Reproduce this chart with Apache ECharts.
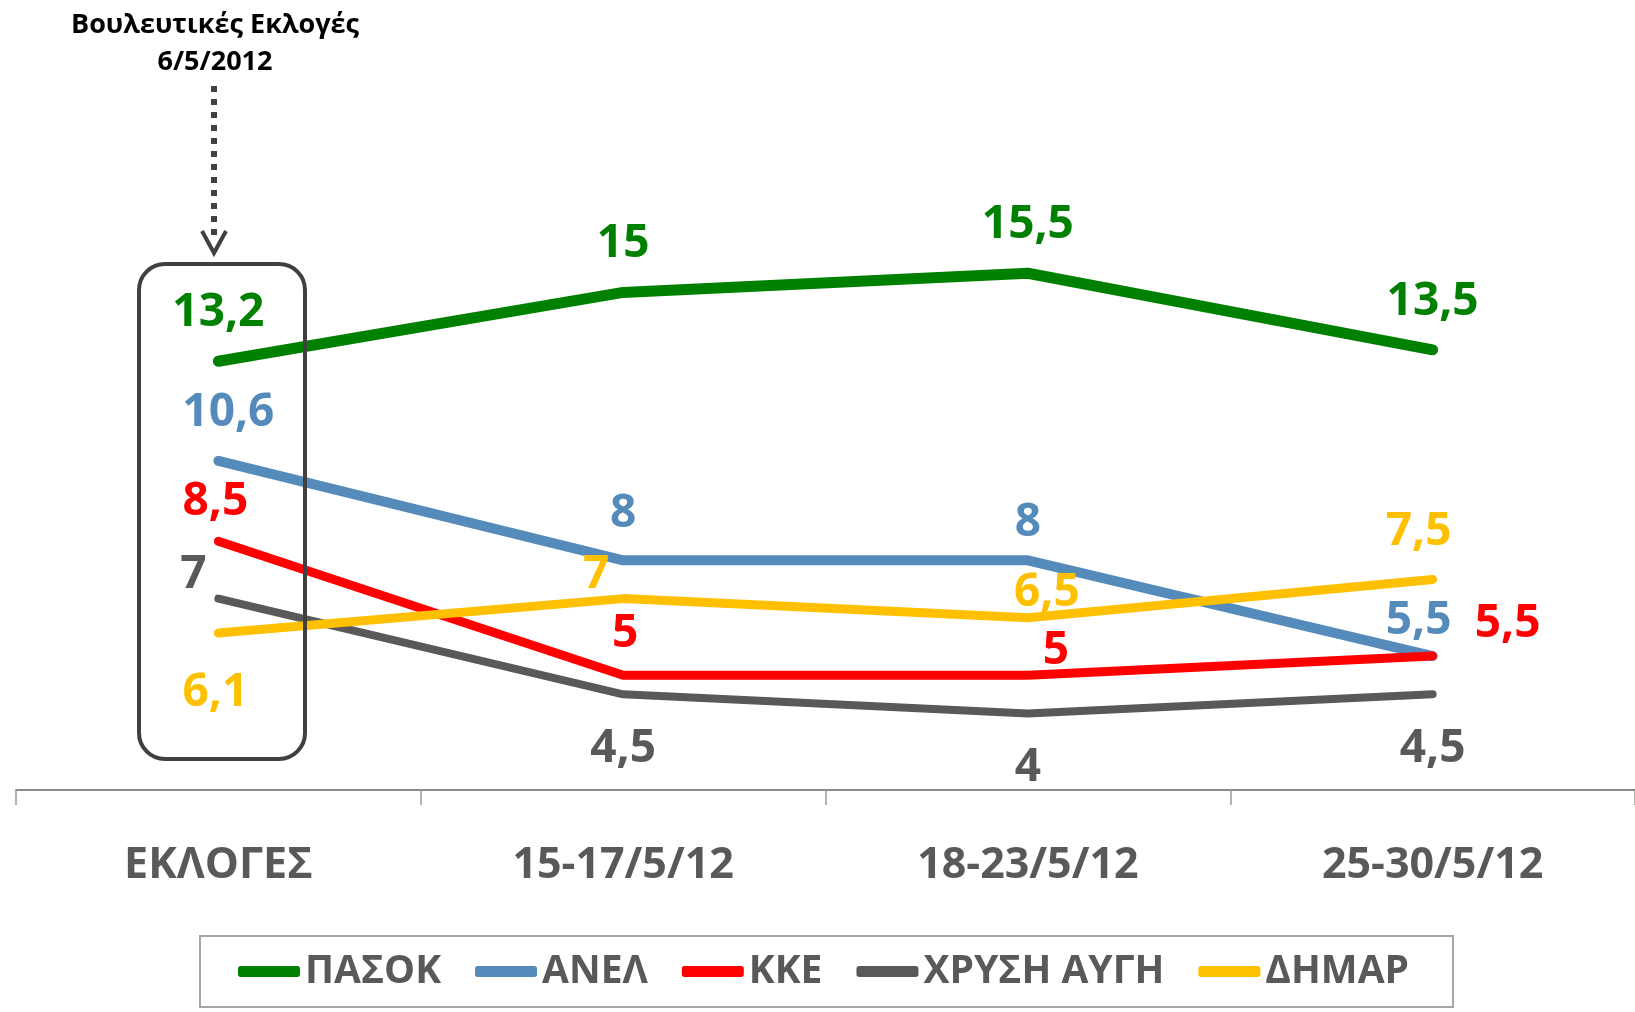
<!DOCTYPE html>
<html>
<head>
<meta charset="utf-8">
<script src="https://cdn.jsdelivr.net/npm/echarts@6/dist/echarts.min.js"></script>
<style>
  html, body { margin: 0; padding: 0; background: #fff; }
  #main { width: 1635px; height: 1012px; }
</style>
</head>
<body>
<div id="main"></div>
<script>
// poll dates
const categories = ['ΕΚΛΟΓΕΣ', '15-17/5/12', '18-23/5/12', '25-30/5/12'];

// percentages per party
const pasok = [13.2, 15, 15.5, 13.5];
const anel = [10.6, 8, 8, 5.5];
const kke = [8.5, 5, 5, 5.5];
const xa = [7, 4.5, 4, 4.5];
const dimar = [6.1, 7, 6.5, 7.5];

const names = ['ΠΑΣΟΚ', 'ΑΝΕΛ', 'ΚΚΕ', 'ΧΡΥΣΗ ΑΥΓΗ', 'ΔΗΜΑΡ'];
const colors = ['#008000', '#558BBA', '#FF0000', '#595959', '#FFC000'];
const widths = [11, 10, 9, 8, 9];

// where each value label sits relative to its point (px)
const labelOffsets = [
    [[0, -48], [0, -48], [0, -48], [0, -48]],
    [[10, -48], [0, -46], [0, -37], [-14, -35]],
    [[-3, -39], [2, -41], [28, -24], [75, -32]],
    [[-25, -24], [0, 55], [0, 54], [0, 55]],
    [[-3, 60], [-27, -24], [19, -25], [-14, -48]]
];

const FONT = '"Open Sans", "Noto Sans", sans-serif';

function fmt(v) {
    return String(v).replace('.', ',');
}

const allData = [pasok, anel, kke, xa, dimar];

const series = allData.map((values, i) => ({
    name: names[i],
    type: 'line',
    color: colors[i],
    symbol: 'circle',
    symbolSize: 1,
    lineStyle: { width: widths[i], color: colors[i], cap: 'round', join: 'round' },
    itemStyle: { color: colors[i] },
    emphasis: { disabled: true },
    animation: false,
    data: values.map((v, j) => ({
        value: v,
        label: {
            show: true,
            position: 'inside',
            offset: labelOffsets[i][j],
            formatter: fmt(v),
            color: colors[i],
            fontFamily: FONT,
            fontWeight: 'bold',
            fontSize: 46
        }
    }))
}));

const option = {
    backgroundColor: '#ffffff',
    animation: false,
    grid: { left: 16, top: 101, width: 1633, height: 689 },
    xAxis: {
        type: 'category',
        data: categories,
        boundaryGap: true,
        axisLine: { lineStyle: { color: '#8C8C8C', width: 2 } },
        axisTick: { show: true, length: 15, lineStyle: { color: '#9a9a9a', width: 1.5 } },
        axisLabel: {
            margin: 54,
            color: '#595959',
            fontFamily: FONT,
            fontWeight: 'bold',
            fontSize: 43
        }
    },
    yAxis: {
        type: 'value',
        min: 2,
        max: 20,
        show: false,
        splitLine: { show: false }
    },
    legend: {
        data: names,
        left: 200,
        top: 936,
        padding: [16, 44, 16, 38],
        borderColor: '#a6a6a6',
        borderWidth: 2,
        itemGap: 34,
        itemWidth: 62,
        itemHeight: 11,
        icon: 'roundRect',
        selectedMode: false,
        textStyle: {
            color: '#595959',
            fontFamily: FONT,
            fontWeight: 'bold',
            fontSize: 39
        }
    },
    graphic: [
        {
            type: 'text',
            x: 215,
            y: 7,
            style: {
                text: 'Βουλευτικές Εκλογές\n6/5/2012',
                align: 'center',
                verticalAlign: 'top',
                fill: '#000',
                font: 'bold 27px ' + FONT,
                lineHeight: 37
            }
        },
        {
            type: 'line',
            shape: { x1: 214, y1: 86, x2: 214, y2: 240 },
            style: { stroke: '#404040', lineWidth: 6, lineDash: [6, 7] }
        },
        {
            type: 'polyline',
            shape: { points: [[202, 231], [214, 253], [226, 231]] },
            style: { stroke: '#404040', lineWidth: 4, fill: null }
        },
        {
            type: 'rect',
            shape: { x: 139, y: 264, width: 166, height: 495, r: 26 },
            style: { stroke: '#404040', lineWidth: 4, fill: null },
            z: 100
        }
    ],
    series: series
};

let plot = echarts.init(document.querySelector('#main'));
plot.setOption(option);
</script>
</body>
</html>
